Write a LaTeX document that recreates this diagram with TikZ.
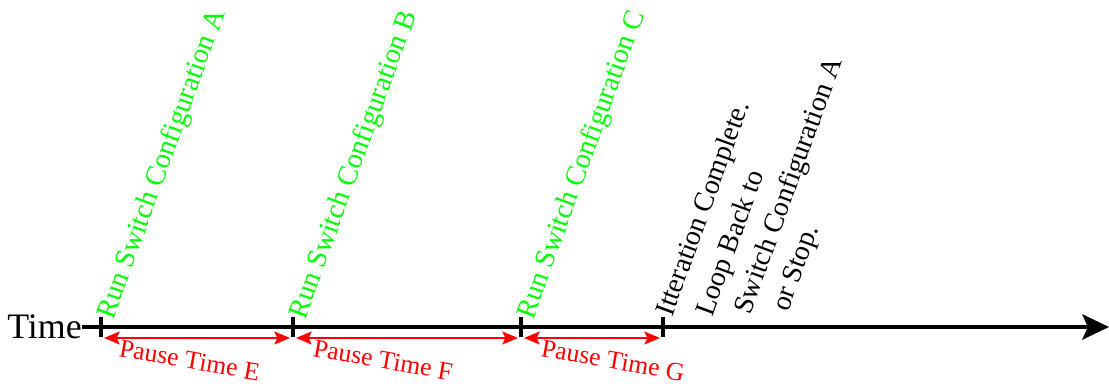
\documentclass[tikz,border=0pt]{standalone}
\usepackage{fontspec}
\setmainfont{Liberation Serif}
\usepackage{xcolor}
\usepackage{tikz}
\usetikzlibrary{arrows.meta}

\definecolor{rungreen}{RGB}{0,255,0}
\definecolor{pausered}{RGB}{255,0,0}

\tikzset{
  timeaxis/.style={line width=2.8pt, -{Stealth[length=19pt,width=18pt,inset=4pt]}},
  tickmark/.style={line width=3.5pt},
  pausearrow/.style={pausered, line width=2pt, {Stealth[length=11pt,width=9pt,inset=2pt]}-{Stealth[length=11pt,width=9pt,inset=2pt]}, shorten <=0.075cm, shorten >=0.075cm},
  pauselabel/.style={pausered, anchor=north west, rotate=-10, inner sep=0pt, font=\fontsize{18.3}{22}\selectfont},
  runlabel/.style={rungreen, anchor=base west, rotate=70, inner sep=0pt, font=\fontsize{20.2}{24}\selectfont},
  looplabel/.style={black, anchor=base west, rotate=70, inner sep=0pt, font=\fontsize{20}{24}\selectfont}
}

\begin{document}
\begin{tikzpicture}
  \useasboundingbox (0,0) rectangle (27.725,9.675);

  % Eje del tiempo
  \node[anchor=east, inner sep=0pt, font=\fontsize{25.5}{30}\selectfont] (time) at (2.05,1.5) {Time};
  \coordinate (axisend) at (27.725,1.5);
  \draw[timeaxis] (time.east) -- (axisend);

  % Marcas sobre el eje
  \foreach \name/\x in {tA/2.525, tB/7.325, tC/13.025, tD/16.575} {
    \coordinate (\name) at (\x,1.5);
    \draw[tickmark] ([yshift=-0.25cm]\name) -- ([yshift=0.25cm]\name);
  }

  % Pausas entre configuraciones
  \draw[pausearrow] ([yshift=-0.275cm]tA) -- ([yshift=-0.275cm]tB);
  \draw[pausearrow] ([yshift=-0.275cm]tB) -- ([yshift=-0.275cm]tC);
  \draw[pausearrow] ([yshift=-0.275cm]tC) -- ([yshift=-0.275cm]tD);
  \node[pauselabel] (pauseE) at ([xshift=0.5cm,yshift=-0.3cm]tA) {Pause Time E};
  \node[pauselabel] (pauseF) at ([xshift=0.55cm,yshift=-0.3cm]tB) {Pause Time F};
  \node[pauselabel] (pauseG) at ([xshift=0.55cm,yshift=-0.3cm]tC) {Pause Time G};

  % Configuraciones
  \node[runlabel] (runA) at ([xshift=0.3cm,yshift=0.15cm]tA) {Run Switch Configuration A};
  \node[runlabel] (runB) at ([xshift=0.3cm,yshift=0.15cm]tB) {Run Switch Configuration B};
  \node[runlabel] (runC) at ([xshift=0.3cm,yshift=0.15cm]tC) {Run Switch Configuration C};

  % Fin de la iteracion
  \node[looplabel] (loopa) at (16.8,1.725) {Itteration Complete.};
  \node[looplabel] (loopb) at (17.8,1.725) {Loop Back to};
  \node[looplabel] (loopc) at (18.75,1.775) {Switch Configuration A};
  \node[looplabel] (loopd) at (19.7,1.85) {or Stop.};
\end{tikzpicture}
\end{document}
